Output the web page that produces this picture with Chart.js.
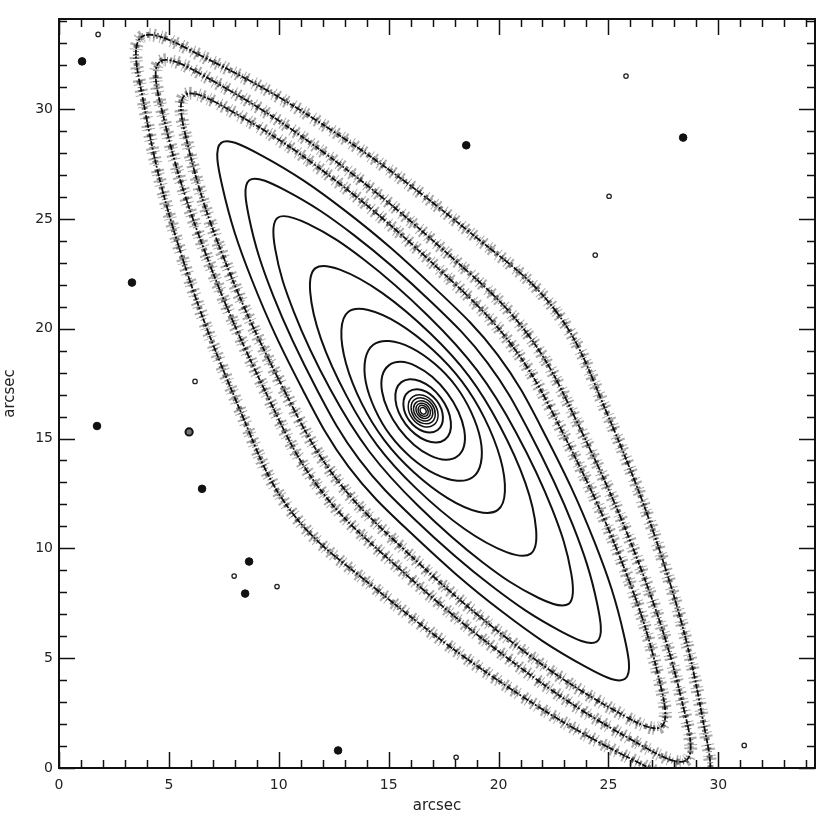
<!DOCTYPE html>
<html><head><meta charset="utf-8">
<script src="https://cdn.jsdelivr.net/npm/chart.js@4.4.0/dist/chart.umd.min.js"></script>
<style>html,body{margin:0;padding:0;background:#fff}#wrap{width:830px;height:819px}</style>
</head><body><div id="wrap"><canvas id="c" width="830" height="819"></canvas></div>
<script>
// axis ranges and tick labels (arcsec)
const xRange = [0, 34.4];
const yRange = [0, 34.1];
const xTickLabels = [0, 5, 10, 15, 20, 25, 30];
const yTickLabels = [0, 5, 10, 15, 20, 25, 30];
const axisTitle = 'arcsec';

// isophote contours, points (x, y in arcsec), outermost first
const contourI = [[22.60,20.81],[18.98,24.16],[12.58,28.92],[6.60,32.36],[3.75,33.28],[3.85,30.29],[5.50,23.58],[8.31,16.12],[10.54,11.71],[14.16,8.36],[20.56,3.60],[26.54,0.16],[29.39,-0.76],[29.29,2.23],[27.64,8.94],[24.83,16.40]];
const contourH = [[21.28,19.81],[17.87,23.25],[12.23,27.89],[7.06,31.25],[4.59,32.16],[4.78,29.54],[6.59,23.64],[9.49,16.93],[11.86,12.71],[15.27,9.27],[20.91,4.63],[26.08,1.27],[28.55,0.36],[28.36,2.98],[26.55,8.88],[23.65,15.59]];
const contourG = [[20.58,19.28],[17.40,22.61],[12.41,26.88],[7.91,29.87],[5.73,30.64],[5.87,28.33],[7.51,23.19],[10.24,17.21],[12.56,13.24],[15.74,9.91],[20.73,5.64],[25.23,2.65],[27.41,1.88],[27.27,4.19],[25.63,9.33],[22.90,15.31]];
const contourF = [[19.96,18.81],[17.16,21.79],[12.97,25.41],[9.23,27.88],[7.38,28.46],[7.42,26.53],[8.77,22.24],[11.09,17.22],[13.18,13.71],[15.98,10.73],[20.17,7.11],[23.91,4.64],[25.76,4.06],[25.72,5.99],[24.37,10.28],[22.05,15.30]];
const contourE = [[19.49,18.46],[17.00,21.16],[13.42,24.26],[10.26,26.32],[8.66,26.76],[8.64,25.10],[9.75,21.49],[11.75,17.20],[13.65,14.06],[16.14,11.36],[19.72,8.26],[22.88,6.20],[24.48,5.76],[24.50,7.42],[23.39,11.03],[21.39,15.32]];
const contourD = [[19.02,18.11],[16.80,20.58],[13.87,23.15],[11.31,24.78],[9.95,25.05],[9.83,23.67],[10.69,20.76],[12.35,17.23],[14.12,14.41],[16.34,11.94],[19.27,9.37],[21.83,7.74],[23.19,7.47],[23.31,8.85],[22.45,11.76],[20.79,15.29]];
const contourC = [[18.66,17.83],[16.89,19.79],[14.70,21.63],[12.78,22.69],[11.67,22.76],[11.43,21.68],[11.92,19.54],[13.09,16.93],[14.48,14.69],[16.25,12.73],[18.44,10.89],[20.36,9.83],[21.47,9.76],[21.71,10.84],[21.22,12.98],[20.05,15.59]];
const contourB = [[18.34,17.59],[17.02,19.03],[15.46,20.23],[14.07,20.85],[13.17,20.77],[12.85,19.93],[13.06,18.42],[13.78,16.59],[14.80,14.93],[16.12,13.49],[17.68,12.29],[19.07,11.67],[19.97,11.75],[20.29,12.59],[20.08,14.10],[19.36,15.93]];
const contourA = [[18.06,17.38],[17.11,18.39],[16.03,19.13],[15.02,19.44],[14.30,19.27],[13.94,18.62],[13.96,17.57],[14.38,16.33],[15.08,15.14],[16.03,14.13],[17.11,13.39],[18.12,13.08],[18.84,13.25],[19.20,13.90],[19.18,14.95],[18.76,16.19]];
const contourE1 = [[17.66,17.08],[16.98,17.81],[16.24,18.30],[15.55,18.49],[15.01,18.33],[14.71,17.86],[14.70,17.14],[14.97,16.29],[15.48,15.44],[16.16,14.71],[16.90,14.22],[17.59,14.03],[18.13,14.19],[18.43,14.66],[18.44,15.38],[18.17,16.23]];
const contourE2 = [[17.37,16.86],[16.93,17.32],[16.44,17.61],[15.96,17.70],[15.58,17.57],[15.35,17.24],[15.31,16.76],[15.45,16.21],[15.77,15.66],[16.21,15.20],[16.70,14.91],[17.18,14.82],[17.56,14.95],[17.79,15.28],[17.83,15.76],[17.69,16.31]];
const contourE3 = [[17.19,16.72],[16.54,17.20],[15.91,17.13],[15.67,16.55],[15.95,15.80],[16.60,15.32],[17.23,15.39],[17.47,15.97]];
// nucleus rings
const ring6 = [[17.05,16.62],[16.57,16.97],[16.09,16.90],[15.89,16.46],[16.09,15.90],[16.57,15.55],[17.05,15.62],[17.25,16.06]];
const ring5 = [[16.97,16.56],[16.58,16.83],[16.18,16.77],[16.02,16.41],[16.17,15.96],[16.56,15.69],[16.96,15.75],[17.12,16.11]];
const ring4 = [[16.89,16.50],[16.58,16.71],[16.27,16.66],[16.13,16.37],[16.25,16.02],[16.56,15.81],[16.87,15.86],[17.01,16.15]];
const ring3 = [[16.81,16.44],[16.58,16.60],[16.34,16.56],[16.24,16.35],[16.33,16.08],[16.56,15.92],[16.80,15.96],[16.90,16.17]];
const ring2 = [[16.74,16.39],[16.57,16.50],[16.41,16.48],[16.34,16.32],[16.40,16.13],[16.57,16.02],[16.73,16.04],[16.80,16.20]];
const ring1 = [[16.67,16.34],[16.57,16.41],[16.47,16.39],[16.43,16.30],[16.47,16.18],[16.57,16.11],[16.67,16.13],[16.71,16.22]];

// field stars / knots (x, y in arcsec)
const starsFilled = [[18.53,28.35],[1.73,15.57],[28.40,28.70],[3.32,22.10],[6.51,12.71],[8.65,9.40],[8.47,7.94],[12.70,0.80],[1.05,32.17]];
const starsRing = [[5.92,15.30]];
const knotsSmall = [[25.03,26.03],[24.40,23.35],[7.97,8.74],[9.92,8.26],[18.07,0.49],[31.18,1.03],[1.78,33.40],[6.19,17.60],[25.80,31.50]];

const noisyContours = [contourI, contourH, contourG];
const smoothContours = [contourF, contourE, contourD, contourC, contourB, contourA, contourE1, contourE2, contourE3];
const nucleusRings = [ring6, ring5, ring4, ring3, ring2, ring1];

// closed loop: wrap one point on each side so the spline has no seam, hide the wrap segments
const loop = arr => [arr[arr.length - 1], ...arr, arr[0], arr[1]].map(([x, y]) => ({x, y}));
const pts = arr => arr.map(([x, y]) => ({x, y}));
const lineDS = (arr, color, width, dash, tension) => {
  const last = arr.length + 2;
  return {
    data: loop(arr), showLine: true, pointRadius: 0, borderColor: color,
    borderWidth: width, borderDash: dash || [], tension: tension, fill: false,
    segment: {borderColor: ctx => (ctx.p0DataIndex === 0 || ctx.p1DataIndex === last) ? 'rgba(0,0,0,0)' : color}
  };
};

const datasets = [];
noisyContours.forEach(c => datasets.push(lineDS(c, 'rgba(0,0,0,0.33)', 13, [1, 5, 2, 3, 1, 7, 2, 2], 0.38)));
noisyContours.forEach(c => datasets.push(lineDS(c, 'rgba(0,0,0,0.5)', 6, [2, 2, 1, 4, 3, 3, 1, 2], 0.38)));
noisyContours.forEach(c => datasets.push(lineDS(c, '#111', 1.8, [5, 1.5, 2, 2, 7, 1], 0.38)));
smoothContours.forEach(c => datasets.push(lineDS(c, '#111', 2, [], 0.38)));
nucleusRings.forEach(c => datasets.push(lineDS(c, '#111', 1.5, [], 0.4)));
datasets.push({data: pts(starsFilled), showLine: false, pointRadius: 3.8, pointBackgroundColor: '#111', pointBorderColor: '#111', pointBorderWidth: 1});
datasets.push({data: pts(starsRing), showLine: false, pointRadius: 3.6, pointBackgroundColor: '#777', pointBorderColor: '#111', pointBorderWidth: 2});
datasets.push({data: pts(knotsSmall), showLine: false, pointRadius: 2.2, pointBackgroundColor: '#fff', pointBorderColor: '#222', pointBorderWidth: 1.3});

const tickFont = {family: 'DejaVu Sans', size: 14};
const titleFont = {family: 'DejaVu Sans', size: 15};

const framePlugin = {
  id: 'frame',
  afterDatasetsDraw(chart) {
    const {ctx, chartArea: a, scales: {x, y}} = chart;
    ctx.save();
    ctx.strokeStyle = '#111';
    ctx.lineWidth = 1.5;
    ctx.beginPath();
    for (let v = Math.ceil(x.min); v <= x.max; v++) {
      const px = Math.round(x.getPixelForValue(v)) + 0.5;
      const L = v % 5 === 0 ? 16 : 8;
      ctx.moveTo(px, a.bottom); ctx.lineTo(px, a.bottom - L);
      ctx.moveTo(px, a.top); ctx.lineTo(px, a.top + L);
    }
    for (let v = Math.ceil(y.min); v <= y.max; v++) {
      const py = Math.round(y.getPixelForValue(v)) + 0.5;
      const L = v % 5 === 0 ? 16 : 8;
      ctx.moveTo(a.left, py); ctx.lineTo(a.left + L, py);
      ctx.moveTo(a.right, py); ctx.lineTo(a.right - L, py);
    }
    ctx.stroke();
    ctx.lineWidth = 2;
    ctx.strokeRect(a.left, a.top, a.right - a.left, a.bottom - a.top);
    ctx.restore();
  }
};

new Chart(document.getElementById('c'), {
  type: 'scatter',
  data: {datasets},
  options: {
    responsive: false, animation: false, devicePixelRatio: 1,
    layout: {padding: {top: 19, right: 15, left: 0, bottom: 0}},
    plugins: {legend: {display: false}, tooltip: {enabled: false}},
    scales: {
      x: {
        type: 'linear', min: xRange[0], max: xRange[1],
        afterBuildTicks: s => { s.ticks = xTickLabels.map(v => ({value: v})); },
        afterFit: s => { s.height = 51; },
        grid: {display: false, drawTicks: false}, border: {display: false},
        ticks: {padding: 9, color: '#222', font: tickFont, maxRotation: 0, autoSkip: false},
        title: {display: true, text: axisTitle, color: '#222', font: titleFont, padding: {top: 0, bottom: 4}}
      },
      y: {
        type: 'linear', min: yRange[0], max: yRange[1],
        afterBuildTicks: s => { s.ticks = yTickLabels.map(v => ({value: v})); },
        afterFit: s => { s.width = 59; },
        grid: {display: false, drawTicks: false}, border: {display: false},
        ticks: {padding: 6, color: '#222', font: tickFont, autoSkip: false},
        title: {display: true, text: axisTitle, color: '#222', font: titleFont, padding: {top: 1, bottom: 0}}
      }
    }
  },
  plugins: [framePlugin]
});
</script>
</body></html>
